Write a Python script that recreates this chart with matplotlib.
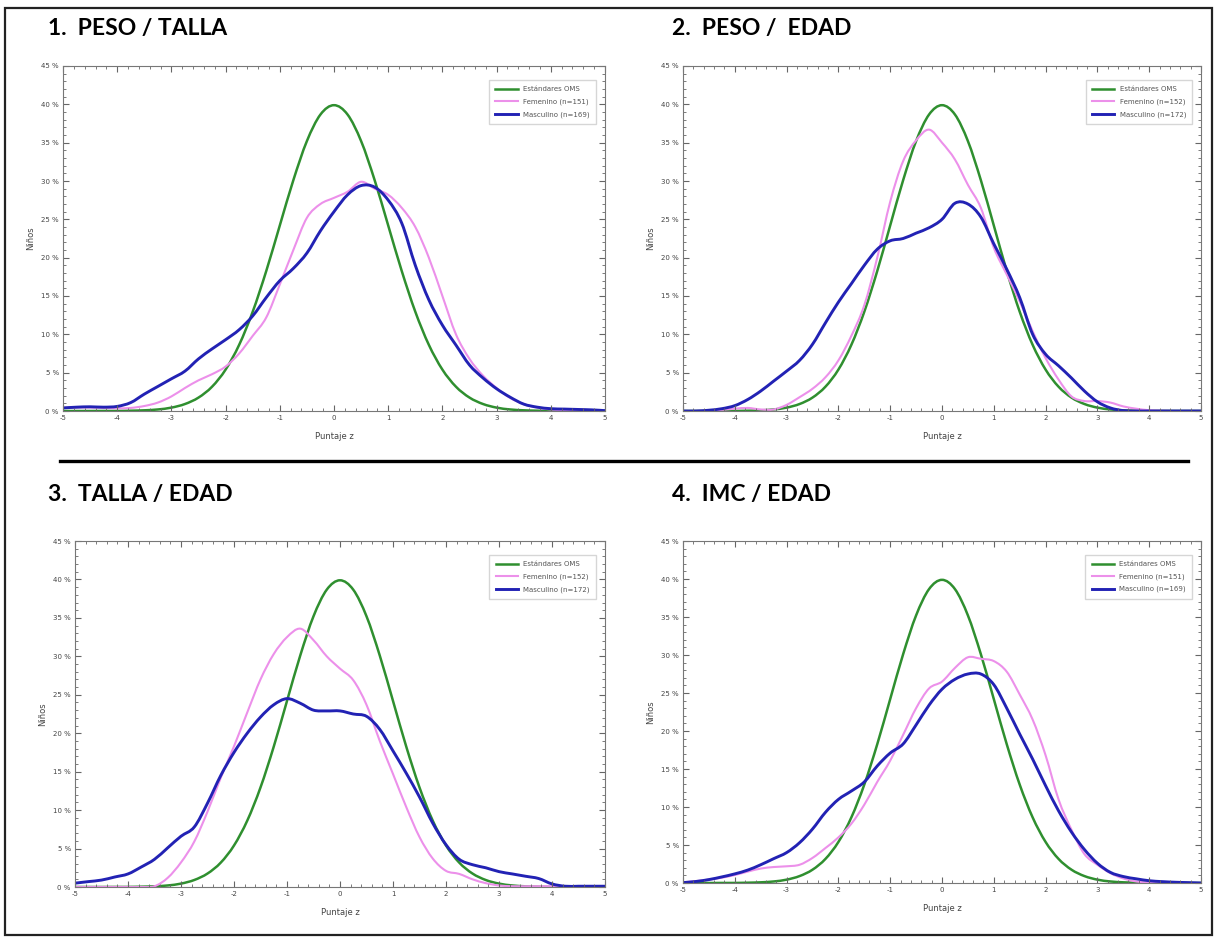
import numpy as np
import matplotlib
matplotlib.use("Agg")
import matplotlib.pyplot as plt
from matplotlib.ticker import MultipleLocator
from matplotlib.path import Path
from matplotlib.patches import PathPatch, Rectangle
from matplotlib.lines import Line2D

# ---------------- data ----------------
z = [-5.0, -4.75, -4.5, -4.25, -4.0, -3.75, -3.5, -3.25, -3.0, -2.75, -2.5, -2.25,
     -2.0, -1.75, -1.5, -1.25, -1.0, -0.75, -0.5, -0.25, 0.0, 0.25, 0.5, 0.75, 1.0,
     1.25, 1.5, 1.75, 2.0, 2.25, 2.5, 2.75, 3.0, 3.25, 3.5, 3.75, 4.0, 4.25, 4.5, 4.75, 5.0]

oms = [0.0, 0.0, 0.0, 0.01, 0.01, 0.04, 0.09, 0.2, 0.44, 0.91, 1.75, 3.17,
       5.4, 8.63, 12.95, 18.26, 24.2, 30.11, 35.21, 38.67, 39.89, 38.67, 35.21, 30.11, 24.2,
       18.26, 12.95, 8.63, 5.4, 3.17, 1.75, 0.91, 0.44, 0.2, 0.09, 0.04, 0.01, 0.01, 0.0, 0.0, 0.0]

# 1. PESO / TALLA
p1_fem = [0.4, 0.45, 0.45, 0.4, 0.35, 0.4, 0.65, 1.1, 1.9, 3.0, 4.0, 4.8,
          5.8, 7.5, 9.8, 12.2, 16.5, 21.0, 25.2, 27.0, 27.8, 28.6, 29.9, 29.0, 28.2,
          26.5, 24.0, 20.0, 15.0, 10.0, 6.8, 4.6, 3.0, 1.7, 0.9, 0.45, 0.2, 0.1, 0.05, 0.02, 0.0]
p1_mas = [0.4, 0.5, 0.55, 0.5, 0.6, 1.1, 2.2, 3.2, 4.2, 5.2, 6.8, 8.1,
          9.3, 10.6, 12.4, 14.8, 17.0, 18.6, 20.6, 23.5, 26.0, 28.2, 29.4, 29.2, 27.5,
          24.5, 19.0, 14.5, 11.2, 8.6, 6.0, 4.3, 2.9, 1.8, 0.9, 0.5, 0.3, 0.25, 0.2, 0.15, 0.05]

# 2. PESO / EDAD
p2_fem = [0.0, 0.0, 0.05, 0.15, 0.3, 0.4, 0.2, 0.2, 0.8, 1.8, 2.9, 4.4,
          6.6, 9.8, 13.8, 20.0, 27.3, 32.6, 35.3, 36.7, 35.0, 32.8, 29.5, 26.5, 21.3,
          17.8, 14.3, 10.4, 6.9, 4.1, 1.9, 1.3, 1.3, 1.1, 0.6, 0.3, 0.1, 0.03, 0.0, 0.0, 0.0]
p2_mas = [0.0, 0.0, 0.1, 0.3, 0.7, 1.5, 2.6, 3.9, 5.2, 6.6, 8.7, 11.5,
          14.2, 16.6, 19.0, 21.1, 22.2, 22.5, 23.2, 23.9, 25.0, 27.1, 27.0, 25.3, 21.8,
          18.5, 14.8, 10.0, 7.4, 5.9, 4.3, 2.6, 1.2, 0.4, 0.05, 0.0, 0.0, 0.0, 0.0, 0.0, 0.0]

# 3. TALLA / EDAD
p3_fem = [0.0, 0.0, 0.0, 0.0, 0.0, 0.0, 0.1, 1.2, 3.2, 5.9, 9.8, 14.2,
          18.3, 22.7, 27.0, 30.3, 32.5, 33.6, 32.1, 30.0, 28.4, 26.9, 23.7, 19.0, 14.7,
          10.4, 6.5, 3.7, 2.1, 1.7, 1.0, 0.5, 0.2, 0.1, 0.1, 0.1, 0.1, 0.1, 0.1, 0.1, 0.1]
p3_mas = [0.5, 0.7, 0.9, 1.3, 1.7, 2.6, 3.6, 5.1, 6.6, 7.8, 10.9, 14.5,
          17.5, 20.0, 22.1, 23.7, 24.5, 23.9, 23.0, 22.9, 22.9, 22.5, 22.2, 20.5, 17.7,
          14.8, 11.7, 8.3, 5.5, 3.6, 2.9, 2.5, 2.0, 1.7, 1.4, 1.1, 0.4, 0.1, 0.1, 0.1, 0.1]

# 4. IMC / EDAD
p4_fem = [0.1, 0.25, 0.45, 0.7, 1.05, 1.5, 1.9, 2.1, 2.2, 2.4, 3.3, 4.6,
          6.0, 7.8, 10.3, 13.3, 16.1, 19.5, 23.0, 25.6, 26.5, 28.3, 29.7, 29.5, 29.2,
          27.8, 24.8, 21.5, 16.8, 11.0, 7.0, 3.8, 2.4, 1.3, 0.6, 0.2, 0.05, 0.0, 0.0, 0.0, 0.0]
p4_mas = [0.05, 0.2, 0.45, 0.8, 1.2, 1.7, 2.4, 3.2, 4.0, 5.3, 7.1, 9.3,
          11.0, 12.1, 13.3, 15.4, 17.1, 18.3, 20.8, 23.4, 25.5, 26.8, 27.5, 27.5, 26.1,
          23.0, 19.6, 16.3, 12.8, 9.5, 6.7, 4.4, 2.6, 1.4, 0.85, 0.55, 0.3, 0.18, 0.1, 0.05, 0.0]

titles = ["1.  PESO / TALLA", "2.  PESO /  EDAD", "3.  TALLA / EDAD", "4.  IMC / EDAD"]
fem_labels = ["Femenino (n=151)", "Femenino (n=152)", "Femenino (n=152)", "Femenino (n=151)"]
mas_labels = ["Masculino (n=169)", "Masculino (n=172)", "Masculino (n=172)", "Masculino (n=169)"]
oms_label = "Estándares OMS"
x_ticks = [-5, -4, -3, -2, -1, 0, 1, 2, 3, 4, 5]
y_ticks = [0, 5, 10, 15, 20, 25, 30, 35, 40, 45]
y_ticklabels = [f"{v} %" for v in y_ticks]
xlabel = "Puntaje z"
ylabel = "Niños"

fem_series = [p1_fem, p2_fem, p3_fem, p4_fem]
mas_series = [p1_mas, p2_mas, p3_mas, p4_mas]

# ---------------- helpers ----------------
def smooth_path(xs, ys):
    """Cubic Bezier path passing through every data point (Catmull-Rom tangents)."""
    x = np.asarray(xs, float)
    y = np.asarray(ys, float)
    n = len(x)
    verts = [(x[0], y[0])]
    codes = [Path.MOVETO]
    for i in range(n - 1):
        i0 = max(i - 1, 0)
        i3 = min(i + 2, n - 1)
        c1 = (x[i] + (x[i + 1] - x[i0]) / 6.0, y[i] + (y[i + 1] - y[i0]) / 6.0)
        c2 = (x[i + 1] - (x[i3] - x[i]) / 6.0, y[i + 1] - (y[i3] - y[i]) / 6.0)
        verts += [c1, c2, (x[i + 1], y[i + 1])]
        codes += [Path.CURVE4, Path.CURVE4, Path.CURVE4]
    return Path(verts, codes)

def draw_curve(ax, xs, ys, color, lw):
    ax.add_patch(PathPatch(smooth_path(xs, ys), fill=False, edgecolor=color,
                           lw=lw, joinstyle="round", capstyle="round"))

# ---------------- layout ----------------
W, H = 1217, 939
fig = plt.figure(figsize=(W / 100, H / 100), dpi=100)
fig.patch.set_facecolor("white")

def px_rect(l, t, r, b):
    return [l / W, 1 - b / H, (r - l) / W, (b - t) / H]

axes_px = [(63, 66, 605, 411), (683, 66, 1201, 411),
           (75, 541, 605, 887), (683, 541, 1201, 883)]
title_px = [(48, 28), (672, 28), (48, 494), (672, 494)]

GREEN = "#2f8f2f"
PINK = "#ec90ea"
BLUE = "#2222b4"
LW_G, LW_P, LW_B = 1.8, 1.5, 2.1

for i in range(4):
    ax = fig.add_axes(px_rect(*axes_px[i]))
    draw_curve(ax, z, oms, GREEN, LW_G)
    draw_curve(ax, z, fem_series[i], PINK, LW_P)
    draw_curve(ax, z, mas_series[i], BLUE, LW_B)
    ax.set_xlim(-5, 5)
    ax.set_ylim(0, 45)
    ax.set_xticks(x_ticks)
    ax.set_xticklabels([str(v) for v in x_ticks])
    ax.set_yticks(y_ticks)
    ax.set_yticklabels(y_ticklabels)
    ax.xaxis.set_minor_locator(MultipleLocator(0.2))
    ax.yaxis.set_minor_locator(MultipleLocator(1))
    ax.tick_params(which="both", direction="in", top=True, right=True,
                   color="#666666", labelsize=5, labelcolor="#444444", pad=3)
    ax.tick_params(which="major", length=4, width=0.8)
    ax.tick_params(which="minor", length=2, width=0.6)
    for s in ax.spines.values():
        s.set_color("#777777")
        s.set_linewidth(0.8)
    ax.set_xlabel(xlabel, fontsize=6, color="#444444", labelpad=8)
    ax.set_ylabel(ylabel, fontsize=6, color="#444444", labelpad=4)
    handles = [Line2D([], [], color=GREEN, lw=LW_G),
               Line2D([], [], color=PINK, lw=LW_P),
               Line2D([], [], color=BLUE, lw=LW_B)]
    leg = ax.legend(handles, [oms_label, fem_labels[i], mas_labels[i]],
                    loc="upper right", fontsize=5, frameon=True, fancybox=False,
                    edgecolor="#cccccc", handlelength=3.2, borderpad=0.9,
                    labelspacing=0.9, bbox_to_anchor=(0.99, 0.97))
    for t in leg.get_texts():
        t.set_color("#555555")
    fig.text(title_px[i][0] / W, 1 - title_px[i][1] / H, titles[i],
             fontsize=16.5, fontweight="bold", family=["Lato", "DejaVu Sans"],
             va="center", ha="left", color="black")

# outer border and separator
fig.add_artist(Rectangle((5 / W, 1 - 935 / H), (1212 - 5) / W, (935 - 8) / H,
                         transform=fig.transFigure, fill=False, edgecolor="#222222", lw=1.6))
fig.add_artist(Line2D([60 / W, 1188 / W], [1 - 461 / H, 1 - 461 / H],
                      transform=fig.transFigure, color="black", lw=2.4))

fig.savefig("out.png", dpi=100)
